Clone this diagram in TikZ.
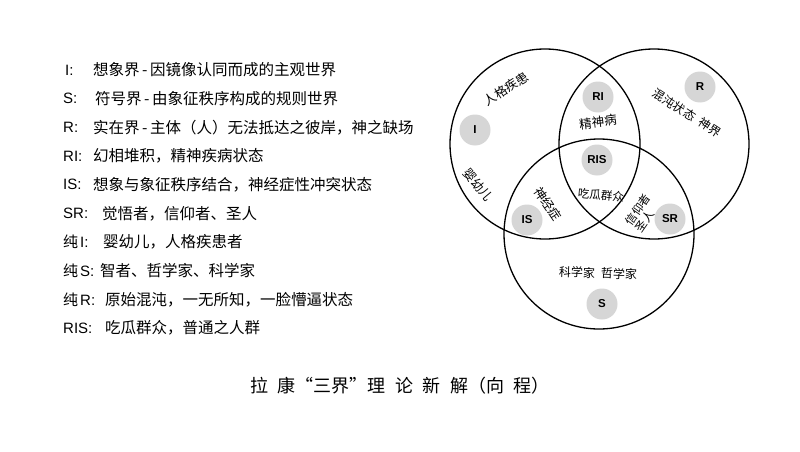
\documentclass[tikz,border=0pt]{standalone}
\usepackage{fontspec}
\setmainfont{Liberation Sans}
\newfontfamily\cjk{Noto Sans CJK SC}
\newcommand{\hy}{\hspace{2.5pt}-\hspace{2.5pt}}
\begin{document}
\begin{tikzpicture}[x=1pt,y=-1pt,
  big/.style={line width=1.3pt},
  tag/.style={circle, fill=black!16, minimum size=31pt, inner sep=0pt, font=\fontsize{11.5}{12}\selectfont\bfseries},
  lab/.style={anchor=west, inner sep=0pt, font=\fontsize{15}{18}\selectfont},
  txt/.style={anchor=west, inner sep=0pt, font=\cjk\fontsize{15.5}{18}\selectfont},
  vlab/.style={inner sep=0pt, font=\cjk\fontsize{12.5}{13}\selectfont},
]
\useasboundingbox (0,0) rectangle (800,452);
\fill[white] (0,0) rectangle (800,452);
% legend
\foreach \k/\xl/\xt/\l/\t in {
 0/65/93/{I:}/{想象界\hy 因镜像认同而成的主观世界},
 1/63/95/{S:}/{符号界\hy 由象征秩序构成的规则世界},
 2/63/93/{R:}/{实在界\hy 主体（人）无法抵达之彼岸，神之缺场},
 3/63/93/{RI:}/{幻相堆积，精神疾病状态},
 4/63/93/{IS:}/{想象与象征秩序结合，神经症性冲突状态},
 5/63/102/{SR:}/{觉悟者，信仰者、圣人},
 6/63/103/{{\cjk 纯}\hspace{2pt}I:}/{婴幼儿，人格疾患者},
 7/63/100/{{\cjk 纯}\hspace{2pt}S:}/{智者、哲学家、科学家},
 8/63/105/{{\cjk 纯}\hspace{2pt}R:}/{原始混沌，一无所知，一脸懵逼状态},
 9/63/105/{RIS:}/{吃瓜群众，普通之人群}} {
  \node[lab] (l\k) at (\xl, 70+28.67*\k) {\l};
  \node[txt] (t\k) at (\xt, 70+28.67*\k) {\t};
}
% Venn circles
\draw[big] (545,144) circle[radius=95];
\draw[big] (654,144) circle[radius=95];
\draw[big] (599,234) circle[radius=95];
% tags
\node[tag] (nI) at (475,130) {I};
\node[tag] (nRI) at (598,97) {RI};
\node[tag] (nRIS) at (597,160) {RIS};
\node[tag] (nR) at (700,87) {R};
\node[tag] (nIS) at (527,220) {IS};
\node[tag] (nSR) at (670,219) {SR};
\node[tag] (nS) at (602,304) {S};
% region labels
\node[vlab, rotate=33] (vA) at (506,89) {人格疾患};
\node[vlab, rotate=-50] (vB) at (478,185) {婴幼儿};
\node[vlab, rotate=7] (vC) at (598,122) {精神病};
\node[vlab, font=\cjk\fontsize{12}{13}\selectfont, rotate=-33] (vD) at (687,113) {混沌状态\hspace{6pt}神界};
\node[vlab, rotate=-56] (vE) at (548,204) {神经症};
\node[vlab, font=\cjk\fontsize{11.5}{12}\selectfont, rotate=-5] (vF) at (601,195) {吃瓜群众};
\node[vlab, font=\cjk\fontsize{11.5}{12.5}\selectfont, rotate=55, align=left] (vG) at (643,213) {信仰者\\圣人};
\node[vlab, font=\cjk\fontsize{12}{13}\selectfont, rotate=-2] (vH) at (598,273) {科学家\hspace{6pt}哲学家};
% title
\node[anchor=west, inner sep=0pt, font=\cjk\fontsize{18}{20}\selectfont] (title) at (250,386)
 {拉\hspace{9.5pt}康“三界”理\hspace{9.5pt}论\hspace{9.5pt}新\hspace{9.5pt}解（向\hspace{9.5pt}程）};
\end{tikzpicture}
\end{document}
